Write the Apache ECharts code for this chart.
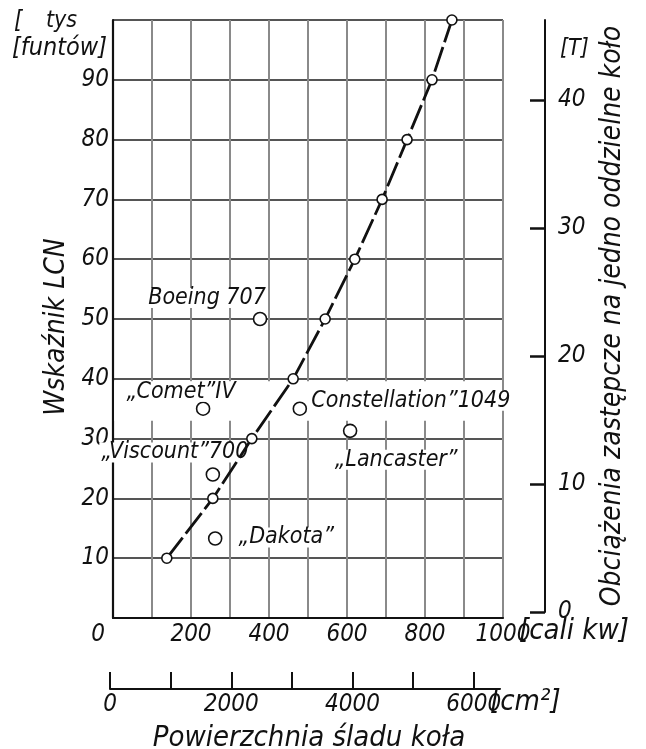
<!DOCTYPE html>
<html>
<head>
<meta charset="utf-8">
<script src="https://cdn.jsdelivr.net/npm/echarts@6/dist/echarts.min.js"></script>
<style>
html,body{margin:0;padding:0;background:#fff}
#chart{width:646px;height:749px}
</style>
</head>
<body>
<div id="chart"></div>
<script>
// LCN curve: wheel contact area [sq in] against load classification number
const curveArea = [138, 256, 356, 462, 544, 620, 690, 754, 818, 869];
const curveLCN = [10, 20, 30, 40, 50, 60, 70, 80, 90, 100];

// Individual aircraft plotted against the curve
const aircraftNames = ['Boeing 707', '„Comet”IV', '„Viscount”700', '„Dakota”', 'Constellation”1049', '„Lancaster”'];
const aircraftArea = [377, 231, 256, 262, 479, 608];
const aircraftLCN = [50, 35, 24, 13.3, 35, 31.3];

// Tick labels
const areaTicks = [0, 200, 400, 600, 800, 1000];
const lcnTicks = [10, 20, 30, 40, 50, 60, 70, 80, 90];
const loadTicks = [0, 10, 20, 30, 40];
const cmTicks = [0, 1000, 2000, 3000, 4000, 5000, 6000];
const cmLabels = [0, 2000, 4000, 6000];

// LCN band left free of grid lines behind the aircraft names
const clearBand = [33, 39.6];

const FONT = "'DejaVu Sans Condensed', 'DejaVu Sans', sans-serif";
const INK = '#111';

// label placement for each aircraft name (offset from its marker)
const labelOffsets = {
  'Boeing 707': [-53, -21],
  '„Comet”IV': [-22, -17],
  '„Viscount”700': [-38, -22],
  '„Dakota”': [71, -1],
  'Constellation”1049': [111, -8],
  '„Lancaster”': [46, 29]
};

const txt = (size) => ({ fontFamily: FONT, fontStyle: 'italic', fontSize: size, color: INK });
const gfont = (size) => `italic ${size}px ${FONT}`;

const chart = echarts.init(document.getElementById('chart'), null, { renderer: 'canvas' });

const aircraftData = aircraftNames.map((n, i) => ({
  name: n,
  value: [aircraftArea[i], aircraftLCN[i]],
  label: { offset: labelOffsets[n] }
}));

chart.setOption({
  animation: false,
  backgroundColor: '#fff',
  grid: [
    { left: 113, top: 20, width: 390, height: 598, outerBoundsMode: 'none', containLabel: false },
    { left: 545, top: 20, width: 10, height: 592, outerBoundsMode: 'none', containLabel: false },
    { left: 110, top: 661, width: 388, height: 28, outerBoundsMode: 'none', containLabel: false }
  ],
  xAxis: [
    {
      gridIndex: 0, type: 'value', min: 0, max: 1000, interval: 100,
      axisLine: { show: true, onZero: false, lineStyle: { color: INK, width: 2.2 } },
      axisTick: { show: false },
      splitLine: { show: true, lineStyle: { color: '#8a8a8a', width: 2 } },
      axisLabel: {
        customValues: areaTicks, margin: 5, ...txt(24),
        formatter: v => v === 0 ? '{z|0}' : String(v),
        rich: { z: { ...txt(24), padding: [0, 30, 0, 0] } }
      }
    },
    { gridIndex: 1, type: 'value', show: false },
    {
      gridIndex: 2, type: 'value', min: 0, max: 6400, position: 'bottom',
      axisLine: { show: true, lineStyle: { color: INK, width: 2 } },
      axisTick: { show: true, inside: true, length: 17, customValues: cmTicks, lineStyle: { color: INK, width: 2 } },
      splitLine: { show: false },
      axisLabel: { customValues: cmLabels, margin: 4, ...txt(24), formatter: v => String(v) },
      name: 'Powierzchnia śladu koła', nameLocation: 'middle', nameGap: 35,
      nameTextStyle: { ...txt(29), padding: [0, 0, 0, 10] }
    }
  ],
  yAxis: [
    {
      gridIndex: 0, type: 'value', min: 0, max: 100, interval: 10,
      axisLine: { show: true, onZero: false, lineStyle: { color: INK, width: 2.2 } },
      axisTick: { show: false },
      splitLine: { show: true, lineStyle: { color: '#555', width: 1.8 } },
      axisLabel: { customValues: lcnTicks, margin: 4, ...txt(24) },
      name: 'Wskaźnik LCN', nameLocation: 'middle', nameGap: 38, nameRotate: 90,
      nameTextStyle: { ...txt(28), padding: [0, 16, 0, 0] }
    },
    {
      gridIndex: 1, type: 'value', min: 0, max: 46.25, position: 'right',
      axisLine: { show: true, lineStyle: { color: INK, width: 2 } },
      axisTick: { show: true, inside: true, length: 15, customValues: loadTicks, lineStyle: { color: INK, width: 2.5 } },
      splitLine: { show: false },
      axisLabel: { customValues: loadTicks, margin: 3, ...txt(24) },
      name: 'Obciążenia zastępcze na jedno oddzielne koło', nameLocation: 'middle', nameGap: 44, nameRotate: 90,
      nameTextStyle: { ...txt(28) }
    },
    { gridIndex: 2, type: 'value', show: false }
  ],
  graphic: [
    { type: 'text', left: 14, top: 10, style: { text: '[', font: gfont(24), fill: INK } },
    { type: 'text', left: 46, top: 10, style: { text: 'tys', font: gfont(23), fill: INK } },
    { type: 'text', left: 12, top: 36, style: { text: '[funtów]', font: gfont(25), fill: INK } },
    { type: 'text', left: 560, top: 38, style: { text: '[T]', font: gfont(23), fill: INK } },
    { type: 'text', left: 519, top: 617, style: { text: '[cali kw]', font: gfont(29), fill: INK } },
    { type: 'text', left: 490, top: 688, style: { text: '[cm²]', font: gfont(29), fill: INK } }
  ],
  series: [
    {
      type: 'custom', xAxisIndex: 0, yAxisIndex: 0, z: 1, silent: true,
      data: [clearBand],
      renderItem: (params, api) => {
        const p0 = api.coord([3, api.value(1)]);
        const p1 = api.coord([997, api.value(0)]);
        return {
          type: 'rect',
          shape: { x: p0[0], y: p0[1], width: p1[0] - p0[0], height: p1[1] - p0[1] },
          style: { fill: '#fff' }
        };
      }
    },
    {
      type: 'scatter', xAxisIndex: 0, yAxisIndex: 0, z: 2,
      symbol: 'circle', symbolSize: 13,
      itemStyle: { color: '#fff', borderColor: INK, borderWidth: 1.6, opacity: 1 },
      label: {
        show: true, position: 'inside', formatter: p => p.name,
        ...txt(23), lineHeight: 20, backgroundColor: '#fff', padding: [0, 2]
      },
      data: aircraftData
    },
    {
      type: 'line', xAxisIndex: 0, yAxisIndex: 0, z: 3,
      data: curveArea.map((a, i) => [a, curveLCN[i]]),
      lineStyle: { color: INK, width: 2.8, type: [26, 5] },
      symbol: 'circle', symbolSize: 10,
      itemStyle: { color: '#fff', borderColor: INK, borderWidth: 1.6 }
    }
  ]
});
</script>
</body>
</html>
